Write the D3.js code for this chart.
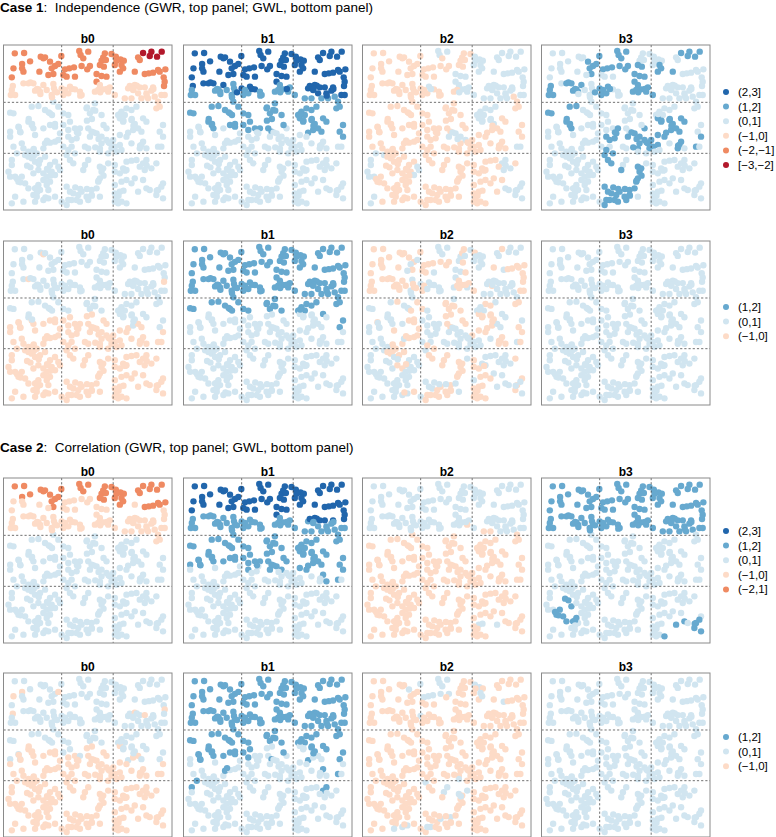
<!DOCTYPE html>
<html><head><meta charset="utf-8">
<script src="https://cdn.jsdelivr.net/npm/d3@7"></script>
<style>html,body{margin:0;padding:0;background:#fff}svg{display:block}text{font-family:"Liberation Sans",Arial,sans-serif;white-space:pre}</style>
</head><body><svg id="c" width="776" height="837"></svg>
<script>
// Class labels, lowest to highest (codes 0-5 used in the panel strings)
const classLabels = ["[\u22123,\u22122]","(\u22122,\u22121]","(\u22121,0]","(0,1]","(1,2]","(2,3]"];
const classColors = ["#b2182b","#ef8a62","#fddbc7","#d1e5f0","#67a9cf","#2166ac"];
const coefNames = ["b0","b1","b2","b3"];
const gridX = [185,340];
const gridY = [307,460];

// Sample locations, grouped in rows (same locations in every panel)
const locations = [
[[44,160],[72,159],[238,153],[242,165],[265,155],[315,160],[335,162],[430,159],[455,155],[486,155]],
[[122,170],[130,175],[135,172],[184,168],[250,175],[305,182],[310,172],[318,180],[348,170],[362,178],[372,182],[415,172],[420,180],[450,168],[472,170]],
[[66,192],[90,184],[150,185],[165,198],[175,192],[245,198],[270,198],[300,195],[312,200],[345,195],[350,182],[365,195]],
[[40,205],[66,205],[70,215],[118,215],[155,205],[160,222],[195,208],[208,205],[222,202],[262,208],[360,215],[370,205],[405,215],[435,222],[447,220],[460,218],[475,210],[480,215],[497,208]],
[[35,232],[70,250],[145,225],[190,225],[200,230],[225,230],[290,222],[290,245],[305,228],[320,230],[492,232],[495,245]],
[[38,258],[85,250],[100,250],[130,255],[160,252],[162,265],[185,265],[210,260],[225,268],[300,255],[310,268],[330,262],[385,265],[390,258],[405,255],[420,262],[435,262],[460,262],[493,258]],
[[32,285],[35,270],[45,285],[105,272],[115,268],[120,275],[140,270],[155,285],[165,275],[190,285],[195,270],[205,280],[240,275],[245,285],[285,275],[295,270],[325,275],[345,285],[400,270],[415,280],[440,280],[455,272],[485,285],[495,285]],
[[95,320],[115,318],[160,305],[175,320],[260,325],[285,310],[375,295],[380,325],[395,295],[410,320],[425,295],[445,295],[465,290],[470,325],[475,305],[480,320]],
[[30,338],[40,340],[135,330],[150,340],[190,340],[205,345],[270,340],[280,330],[305,345],[355,345],[365,335],[375,345],[395,330]],
[[85,365],[150,375],[165,372],[190,375],[210,365],[360,355],[370,365],[395,360],[405,372],[430,355],[440,365],[490,375]],
[[30,395],[55,380],[60,395],[95,375],[100,385],[130,385],[165,380],[205,390],[225,385],[240,385],[265,385],[275,395],[320,385],[385,398],[400,390],[415,385],[425,395],[480,395]],
[[30,410],[105,405],[165,425],[175,420],[180,400],[205,410],[215,420],[230,415],[235,400],[270,410],[290,400],[305,410],[320,420],[340,420],[360,405],[380,410],[490,410]],
[[40,440],[65,430],[70,445],[100,450],[130,445],[135,430],[150,428],[190,440],[215,440],[255,440],[265,445],[300,445],[305,430],[330,430],[335,445],[345,440],[360,435],[395,430],[420,445],[425,435],[430,425],[440,445],[475,440],[485,440]],
[[50,460],[75,465],[85,455],[85,470],[95,475],[110,460],[135,470],[200,465],[205,450],[225,460],[300,455],[325,460],[350,455],[365,450]],
[[35,480],[35,495],[105,485],[120,480],[150,495],[165,485],[210,480],[220,490],[255,495],[265,480],[325,490],[345,495],[380,485],[395,482],[410,480],[430,490],[440,480],[470,490]],
[[25,515],[100,520],[115,510],[130,520],[145,510],[155,515],[165,525],[175,500],[180,510],[250,510],[300,500],[305,515],[310,505],[345,515],[360,520],[370,505],[380,510],[420,500],[435,510],[455,505]],
[[30,530],[45,530],[55,545],[65,530],[130,540],[140,530],[150,545],[295,545],[300,535],[365,545],[380,540],[405,535],[430,540],[490,550]],
[[75,550],[85,565],[105,565],[115,555],[120,570],[140,555],[145,570],[200,560],[210,575],[275,570],[290,565],[345,555],[360,575],[395,550],[415,575],[440,565],[450,570],[475,570],[485,560]],
[[45,590],[100,585],[110,590],[130,600],[145,595],[165,590],[220,580],[235,585],[245,575],[260,590],[275,585],[300,590],[345,580],[350,595],[470,585],[490,595]],
[[35,610],[70,605],[105,605],[185,605],[200,615],[205,600],[215,600],[230,600],[240,605],[265,600],[345,605],[355,610],[365,605],[380,610]],
// further locations in the dense clusters
[[91,247],[111,267],[121,282],[156,292],[171,277],[216,267],[241,287],[301,277],[321,267],[411,257],[401,267],[441,287],[461,267],
 [86,357],[96,372],[146,337],[156,345],[261,322],[286,332],[361,342],[371,362],[396,357],[401,377],[261,362],[276,357],[311,375],
 [231,397],[61,397],[56,382],[141,422],[281,397],[296,417],[326,427],[286,442],[101,447],[421,437],
 [101,467],[116,492],[81,497],[91,502],[141,507],[151,527],[141,547],[51,537],[61,547],[111,562],
 [306,507],[311,527],[296,542],[226,562],[241,567],[261,567],[276,587],[376,512],[441,497],[371,572],[356,587],[471,572],[111,577],[136,592]]
];

// Per-panel classes, one string per location row (21 rows). A short string repeats its
// last character to the end of the row.
const case1GwrB0 = ["1111111000","111111111111100","1","1","121","2222222222222222221","2","3333332323222222","3","3","3","3","3","3","3","3","3","3","3","3","22222222222223"];
const case1GwrB1 = ["5","5","5","5","5","5555445554445555555","444444444444444444555555","4","4","4","333443444444344444","33333333333333334","3","3","3","3","3","3","3","3","544455445555544444444444443"];
const case1GwrB2 = ["2233322333","222222223","222222222333","2222222222333","222222333","2222222323333333333","222222222222222233333333","2222223333332222","2222222223333","222223333222","2","22222222233332222","222222222222222222222233","332","332222222222222332","32222233322222222233","33222222222223","2222222222222223","3222222222222233","32",
 "2222232333333"+"222222"+"333"+"2222222"+"2"+"33"+"2222222222222222222222"+"3"+"22"+"3"+"2"];
const case1GwrB3 = ["3344433444","333443333333344","334444444334","33334444444443","333333444433","4444334434443","4444443334443344443","443","443","433334444443","333443333433444443","33333444444444444","333333333334444443444343","33333334443","333333443","33333333344443","3333333443","333333344443","333333444443","33334444443",
 "4433443443333"+"4433333444333"+"4333444434"+"3333333333"+"4444444"+"3"];
const case1GwlB0 = ["3","323","3","3","3","3233333333333333332","3","3","3","322223333333","222222222222223223","2","2","2","2","2","2","2","2","2","333333333333333333333332"];
const case1GwlB1 = ["4","4","4","4","4","4","4","4","4","333333333434","333333333333333334","3","3","3","3","3","3","3","3","3","4444444444444"+"33"+"44444"+"3"];
const case1GwlB2 = ["2233323233","222233232333333","222232232333","2222322222332322222","223223333222","2222323332223333332","222222232223333232233322","3232233233333232","3333232223332","322332222333","323333233322222332","32222333333332222","333223233333333333222232","33322223223333","333233222232333332","33223333322222233333","33333332222332","3333333332332233323","3333323222232223","33332",
 "2223233223333"+"3332223222222"+"3332333322"+"2333233333"+"22233322322332"];
const case1GwlB3 = ["3","3","3","3","3","3","3","3","3","3","3","3","3","3","3","3","3","3","3","3","3"];
const case2GwrB0 = ["1","1","111112211111","22221122221121","2","2","2","3333332323222222","3","3","3","3","3","3","3","3","3","3","3","3","22222222222223"];
const case2GwrB1 = ["5","5","5","5","545","4444444444444555555","4","4","4","4","4","33333433344433444","333333333333333333334443","3","3","3","3","3","3","3",
 "4444444445444"+"4444444444444"+"444"+"3"+"4"+"3"];
const case2GwrB2 = ["3","3","3","3","3","3","333333333333333323","2222222222333222","2","2","2","2","2","2","2","2","2","2222222222223232","2","2",
 "3333333333333"+"222222222222222222222222222222222222222222"+"3"+"2"];
const case2GwrB3 = ["4","4","4","4","4","4","4","3333334343444333","3","3","3","3","3","3","3","34333","3344333","4444333333333344344","3333333333333344","33333333333334",
 "4444444444444"+"3333333333333333333333333"+"44"+"333"+"444"+"33333333333"+"4"+"3"];
const case2GwlB0 = ["3","3","233323","23","333333333332","2333333333333323233","3","3","3","222332333","333222222322232233","2","2","2","2","2","2","2","2","2",
 "3333333333333"+"22"+"33333333"+"2"];
const case2GwlB1 = ["4","4","4","4","4","4","4","4","4","444443344444","344444443334343334","3","33333"+"4"+"33333333333333"+"4343","43","43"+"3333333333333"+"443","3","3","3","3","3",
 "44444444444444444444"+"3"+"44"+"33"+"4"+"3"+"444"+"3"];
const case2GwlB2 = ["2233322222","22233222332","223223322223","222222333223232","2","22222232","2","2","2","2","2","2","2","222222232232","222222223332","222222222232","2","22222222232","2223322232","22322332",
 "2222222222222222222222222222222222222222222222"+"3"+"2"];
const case2GwlB3 = ["3","3","3","3","3","3","3","3","3","3","3","3","3","3","3","3","3","3","3","3","3"];

const caseTitles = [["Case 1",":  Independence (GWR, top panel; GWL, bottom panel)"],["Case 2",":  Correlation (GWR, top panel; GWL, bottom panel)"]];
const legendCodes = [[5,4,3,2,1,0],[4,3,2],[5,4,3,2,1],[4,3,2]];
const legendOverride = {"2:1":"(\u22122,1]"};
const panelGroups = [
 {top:45,bottom:210,legendY:92,panels:[case1GwrB0,case1GwrB1,case1GwrB2,case1GwrB3]},
 {top:241,bottom:405,legendY:307,panels:[case1GwlB0,case1GwlB1,case1GwlB2,case1GwlB3]},
 {top:478,bottom:643,legendY:531,panels:[case2GwrB0,case2GwrB1,case2GwrB2,case2GwrB3]},
 {top:673,bottom:837,legendY:737,panels:[case2GwlB0,case2GwlB1,case2GwlB2,case2GwlB3]}
];
const panelLefts = [3.5,183.5,362.5,541.5], panelWidth = 168.5;

const svg = d3.select("#c");
const titleYs = [12,452];
caseTitles.forEach((t,i)=>{
  const el = svg.append("text").attr("x",0).attr("y",titleYs[i]).attr("font-size",13.5);
  el.append("tspan").attr("font-weight","bold").text(t[0]);
  el.append("tspan").text(t[1]);
});

function classesFor(panel){
  const out = [];
  locations.forEach((row,r)=>{
    const s = panel[r];
    const last = s[s.length-1];
    row.forEach((p,i)=>{ out.push({x:p[0],y:p[1],c:+(s[i]!==undefined?s[i]:last)}); });
  });
  return out;
}

panelGroups.forEach((g,gi)=>{
  const y = d3.scaleLinear().domain([135,630]).range([g.top,g.bottom]);
  g.panels.forEach((panel,pi)=>{
    const left = panelLefts[pi];
    const x = d3.scaleLinear().domain([10,517]).range([left,left+panelWidth]);
    const p = svg.append("g");
    p.append("text").attr("x",left+panelWidth/2).attr("y",g.top-2.5).attr("text-anchor","middle")
      .attr("font-weight","bold").attr("font-size",12).text(coefNames[pi]);
    const pts = classesFor(panel);
    p.selectAll("circle").data(pts).join("circle")
      .attr("cx",d=>x(d.x)).attr("cy",d=>y(d.y)).attr("r",3.2).attr("fill",d=>classColors[d.c]);
    p.selectAll("line.gx").data(gridX).join("line").attr("class","gx")
      .attr("x1",d=>x(d)).attr("x2",d=>x(d)).attr("y1",g.top).attr("y2",g.bottom)
      .attr("stroke","#333").attr("stroke-width",0.7).attr("stroke-dasharray","2.2,2");
    p.selectAll("line.gy").data(gridY).join("line").attr("class","gy")
      .attr("y1",d=>y(d)).attr("y2",d=>y(d)).attr("x1",left).attr("x2",left+panelWidth)
      .attr("stroke","#333").attr("stroke-width",0.7).attr("stroke-dasharray","2.2,2");
    p.append("rect").attr("x",left).attr("y",g.top).attr("width",panelWidth).attr("height",g.bottom-g.top)
      .attr("fill","none").attr("stroke","#8a8a8a").attr("stroke-width",1);
  });
  const rows = svg.append("g").selectAll("g").data(legendCodes[gi]).join("g")
    .attr("transform",(d,i)=>`translate(726,${g.legendY+i*14.6})`);
  rows.append("circle").attr("r",3).attr("fill",d=>classColors[d]);
  rows.append("text").attr("x",12).attr("y",4).attr("font-size",11.5)
    .text(d=>legendOverride[gi+":"+d]||classLabels[d]);
});
</script></body></html>
